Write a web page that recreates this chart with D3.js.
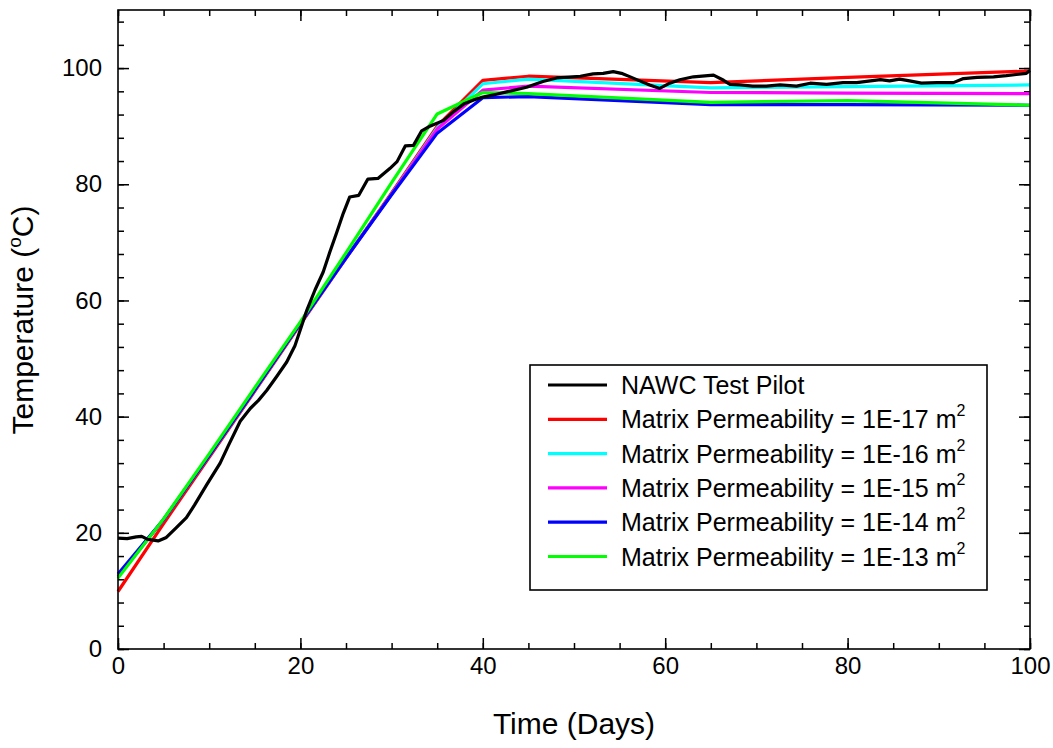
<!DOCTYPE html>
<html>
<head>
<meta charset="utf-8">
<script src="https://cdn.jsdelivr.net/npm/d3@7"></script>
<style>
  body { margin: 0; background: #fff; }
  svg { font-family: "Liberation Sans", Arial, sans-serif; }
</style>
</head>
<body>
<div id="chart"></div>
<script>
// measured pilot data (Time in days, Temperature in C)
var pilotT = [0,1,2,2.6,3.2,4.4,5.3,6.4,7.5,8.4,9.7,11.2,12.1,13.4,14.5,15.4,16.3,17.4,18.5,19.4,20,20.7,21.6,22.5,23.2,24,24.7,25.4,26.4,27.4,28.5,29.8,30.6,31.5,32.4,33.3,34.2,35.7,36.8,37.9,39,40,41.5,42.6,44.8,46.6,48.1,50.7,52.1,53.2,54.3,55.2,56.3,57.2,58.3,59.4,60.5,61.6,63.1,65.3,66.4,67.1,68.2,69.6,71.1,72.6,74.4,75.9,77.7,79.5,81,82.5,83.6,84.6,85.7,86.8,88.1,89.8,91.6,92.7,94.2,96,97.4,98.5,99.6,100];
var pilotV = [19.1,19.0,19.3,19.4,18.9,18.6,19.2,20.9,22.6,24.8,28.2,32.0,35.0,39.2,41.4,42.8,44.5,46.9,49.4,52.2,55.0,58.3,61.8,64.9,68.2,71.8,75.0,77.8,78.1,80.9,81.0,82.7,83.9,86.6,86.7,89.2,90.0,91.0,92.5,93.8,94.5,95.0,95.5,95.9,96.7,97.7,98.3,98.6,99.0,99.1,99.4,99.1,98.4,97.8,97.1,96.5,97.4,98.0,98.5,98.8,97.9,97.2,97.1,96.9,96.9,97.1,96.9,97.4,97.2,97.5,97.5,97.8,98.0,97.8,98.1,97.8,97.4,97.5,97.5,98.2,98.4,98.5,98.7,98.9,99.1,99.6];

// simulation output times
var simT = [0,5,10,15,20,25,30,35,40,45,65,80,100];
var perm17 = [9.9,21.6,33.0,44.4,55.9,67.3,78.5,90.0,97.9,98.6,97.5,98.4,99.5];
var perm16 = [12.5,22.3,33.3,44.6,56.1,67.3,78.3,89.7,97.3,98.1,96.6,96.8,97.1];
var perm15 = [12.5,22.3,33.3,44.6,56.1,67.3,78.3,89.5,96.2,96.9,95.8,95.7,95.6];
var perm14 = [12.9,22.3,33.3,44.6,56.1,67.3,78.2,88.8,94.9,95.1,93.7,93.7,93.6];
var perm13 = [12.2,22.4,33.6,45.0,56.3,68.2,80.3,92.1,95.8,95.6,94.1,94.4,93.6];

var seriesNames = ["NAWC Test Pilot","Matrix Permeability = 1E-17 m","Matrix Permeability = 1E-16 m","Matrix Permeability = 1E-15 m","Matrix Permeability = 1E-14 m","Matrix Permeability = 1E-13 m"];
var seriesColors = ["#000000","#ff0000","#00ffff","#ff00ff","#0000ff","#00ff00"];

var xTicks = [0,20,40,60,80,100];
var yTicks = [0,20,40,60,80,100];

var width = 1053, height = 748;
var margin = {top: 10, right: 23, bottom: 99, left: 118};
var w = width - margin.left - margin.right;
var h = height - margin.top - margin.bottom;

var svg = d3.select("#chart").append("svg")
	.attr("width", width)
	.attr("height", height);
var g = svg.append("g").attr("transform", "translate(" + margin.left + "," + margin.top + ")");

var x = d3.scaleLinear().domain([0, 100]).range([0, w]);
var y = d3.scaleLinear().domain([0, 110]).range([h, 0]);

// ticks (inward on all sides)
function tickAxis(axis, vals, size, pad) {
	return axis.tickValues(vals).tickSize(-size).tickSizeOuter(0).tickPadding(pad || 0)
		.tickFormat(pad ? d3.format("d") : "");
}
var xMinor = d3.range(0, 101, 5);
var yMinor = d3.range(0, 110, 4);

g.append("g").attr("transform", "translate(0," + h + ")").call(tickAxis(d3.axisBottom(x), xMinor, 6));
g.append("g").attr("transform", "translate(0," + h + ")").call(tickAxis(d3.axisBottom(x), xTicks, 11, 8));
g.append("g").call(tickAxis(d3.axisTop(x), xMinor, 6));
g.append("g").call(tickAxis(d3.axisTop(x), xTicks, 11));
g.append("g").call(tickAxis(d3.axisLeft(y), yMinor, 6));
g.append("g").call(tickAxis(d3.axisLeft(y), yTicks, 11, 16));
g.append("g").attr("transform", "translate(" + w + ",0)").call(tickAxis(d3.axisRight(y), yMinor, 6));
g.append("g").attr("transform", "translate(" + w + ",0)").call(tickAxis(d3.axisRight(y), yTicks, 11));

g.selectAll(".domain").remove();
g.selectAll(".tick line").attr("stroke", "#000").attr("stroke-width", 1.5);
g.selectAll(".tick text").attr("font-size", 24).attr("fill", "#000")
	.attr("font-family", "'Liberation Sans', Arial, sans-serif");

// lines
var line = d3.line().x(function(d){ return x(d[0]); }).y(function(d){ return y(d[1]); });
var allSeries = [
	d3.zip(pilotT, pilotV),
	d3.zip(simT, perm17),
	d3.zip(simT, perm16),
	d3.zip(simT, perm15),
	d3.zip(simT, perm14),
	d3.zip(simT, perm13)
];
var drawOrder = [1,2,3,4,5,0];
drawOrder.forEach(function(i){
	g.append("path")
		.datum(allSeries[i])
		.attr("d", line)
		.attr("fill", "none")
		.attr("stroke", seriesColors[i])
		.attr("stroke-width", 3.2)
		.attr("stroke-linejoin", "round");
});

// frame
g.append("rect").attr("width", w).attr("height", h)
	.attr("fill", "none").attr("stroke", "#000").attr("stroke-width", 1.6);

// axis titles
svg.append("text")
	.attr("x", margin.left + w / 2).attr("y", 734)
	.attr("text-anchor", "middle").attr("font-size", 30)
	.text("Time (Days)");

var yt = svg.append("text")
	.attr("transform", "translate(33,320) rotate(-90)")
	.attr("text-anchor", "middle").attr("font-size", 30);
yt.append("tspan").text("Temperature (");
yt.append("tspan").attr("font-size", 19).attr("dy", -12).text("o");
yt.append("tspan").attr("dy", 12).text("C)");

// legend
var leg = svg.append("g").attr("transform", "translate(530,365)");
leg.append("rect").attr("width", 457).attr("height", 225)
	.attr("fill", "#fff").attr("stroke", "#000").attr("stroke-width", 1.6);
seriesNames.forEach(function(name, i){
	var ry = 20 + i * 34.3;
	leg.append("line").attr("x1", 18).attr("x2", 77).attr("y1", ry).attr("y2", ry)
		.attr("stroke", seriesColors[i]).attr("stroke-width", 3.2);
	var t = leg.append("text").attr("x", 91).attr("y", ry + 9).attr("font-size", 25);
	t.append("tspan").text(name);
	if (i > 0) t.append("tspan").attr("font-size", 16).attr("dy", -12).text("2");
});
</script>
</body>
</html>
